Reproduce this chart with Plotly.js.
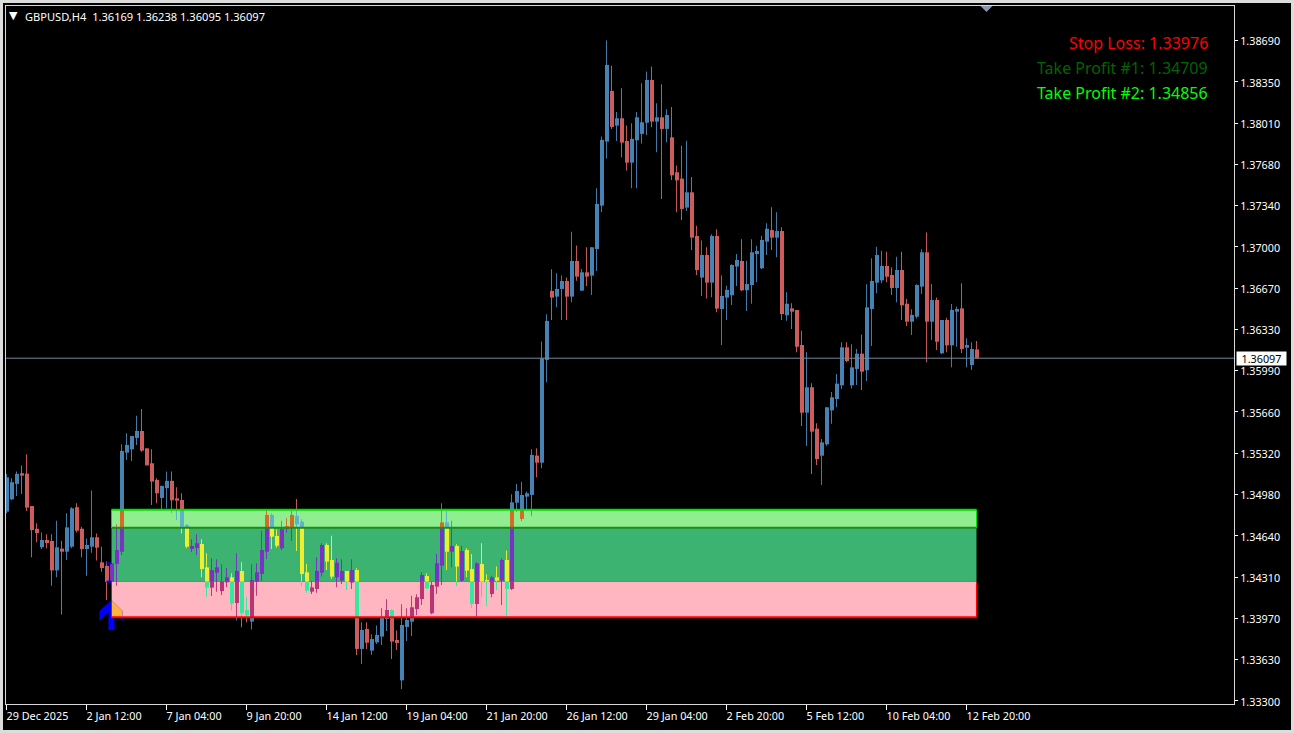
<!DOCTYPE html>
<html>
<head>
<meta charset="utf-8">
<script src="https://cdn.plot.ly/plotly-3.0.1.min.js"></script>
<style>
html,body{margin:0;padding:0;width:1294px;height:733px;background:#dcdcdc;overflow:hidden}
#chart{position:absolute;left:3px;top:3px;width:1288px;height:727px;background:#000}
</style>
</head>
<body>
<div id="chart"></div>
<script>
const open = [1.34841,1.34942,1.35068,1.35155,1.35152,1.34887,1.34701,1.34549,1.34609,1.34601,
1.34360,1.34538,1.34513,1.34554,1.34877,1.34701,1.34535,1.34554,1.34631,1.34426,
1.34396,1.34268,1.34413,1.34513,1.35324,1.35351,1.35444,1.35501,1.35359,1.35237,
1.35101,1.34953,1.35033,1.35093,1.34950,1.34936,1.34731,1.34535,1.34543,1.34576,
1.34385,1.34219,1.34341,1.34191,1.34262,1.34303,1.34093,1.34355,1.34036,1.33941,
1.34268,1.34331,1.34513,1.34814,1.34642,1.34541,1.34699,1.34713,1.34805,1.34759,
1.34344,1.34186,1.34208,1.34341,1.34568,1.34445,1.34303,1.34276,1.34355,1.34260,
1.34363,1.33717,1.33880,1.33703,1.33771,1.33818,1.33962,1.34036,1.33790,1.33460,
1.33897,1.33940,1.34044,1.34126,1.34314,1.34009,1.34227,1.34399,1.34753,1.34513,
1.34560,1.34276,1.34527,1.34371,1.34085,1.34412,1.34281,1.34167,1.34303,1.34276,
1.34445,1.34208,1.34914,1.34781,1.34964,1.34978,1.35300,1.35242,1.36083,1.36648,
1.36601,1.36664,1.36729,1.36601,1.36893,1.36650,1.36800,1.36773,1.36991,1.37346,
1.37870,1.38285,1.38001,1.38061,1.37875,1.37698,1.37881,1.37933,1.38025,1.38375,
1.38034,1.38069,1.37974,1.37905,1.37619,1.37567,1.37330,1.37455,1.37098,1.36757,
1.36942,1.36716,1.37098,1.36500,1.36593,1.36612,1.36847,1.36893,1.36653,1.36696,
1.36950,1.36833,1.37051,1.37146,1.37084,1.37138,1.36448,1.36505,1.36492,1.36205,
1.35651,1.35859,1.35520,1.35299,1.35392,1.35670,1.35763,1.35875,1.36186,1.35875,
1.36009,1.36134,1.35998,1.36500,1.36715,1.36734,1.36852,1.36778,1.36672,1.36819,
1.36543,1.36396,1.36437,1.36683,1.36964,1.36396,1.36573,1.36137,1.36410,1.36202,
1.36478,1.36505,1.36183,1.36041,1.36169];
const high = [1.35150,1.35114,1.35169,1.35218,1.35310,1.34887,1.34745,1.34671,1.34655,1.34655,
1.34767,1.34603,1.34828,1.34877,1.34909,1.34718,1.34622,1.35014,1.34663,1.34554,
1.34432,1.34424,1.34737,1.35392,1.35482,1.35460,1.35626,1.35681,1.35359,1.35351,
1.35114,1.35052,1.35169,1.35169,1.35041,1.34991,1.34739,1.34614,1.34655,1.34614,
1.34500,1.34459,1.34451,1.34410,1.34382,1.34336,1.34500,1.34426,1.34145,1.34410,
1.34418,1.34685,1.34854,1.34827,1.34696,1.34767,1.34786,1.34846,1.34944,1.34778,
1.34412,1.34273,1.34467,1.34582,1.34582,1.34644,1.34459,1.34451,1.34355,1.34451,
1.34377,1.33935,1.33935,1.33837,1.33908,1.34050,1.34123,1.34041,1.33867,1.34082,
1.34050,1.34153,1.34164,1.34344,1.34336,1.34268,1.34494,1.34909,1.34846,1.34767,
1.34573,1.34562,1.34541,1.34494,1.34426,1.34582,1.34328,1.34317,1.34391,1.34459,
1.34522,1.34983,1.35067,1.35086,1.35005,1.35351,1.35360,1.36233,1.36457,1.36825,
1.36792,1.36773,1.36757,1.37133,1.37019,1.36828,1.37005,1.37005,1.37488,1.37911,
1.38697,1.38492,1.38113,1.38307,1.38001,1.38020,1.38113,1.38347,1.38443,1.38484,
1.38184,1.38339,1.38135,1.38154,1.37674,1.37837,1.37878,1.37581,1.37182,1.37060,
1.37005,1.37111,1.37152,1.36773,1.36691,1.36866,1.36950,1.37070,1.36895,1.37070,
1.37018,1.37100,1.37201,1.37332,1.37291,1.37168,1.36636,1.36546,1.36492,1.36322,
1.36145,1.35891,1.35564,1.35436,1.35695,1.35820,1.35968,1.36227,1.36227,1.36211,
1.36172,1.36292,1.36702,1.36915,1.37010,1.36977,1.36969,1.36841,1.36928,1.36969,
1.36582,1.36497,1.36702,1.36988,1.37125,1.36704,1.36593,1.36410,1.36429,1.36541,
1.36519,1.36710,1.36260,1.36227,1.36238];
const low = [1.34827,1.34936,1.34969,1.34985,1.34847,1.34467,1.34590,1.34535,1.34541,1.34235,
1.34303,1.33998,1.34445,1.34541,1.34671,1.34467,1.34317,1.34505,1.34440,1.34349,
1.34118,1.34259,1.34235,1.34486,1.35264,1.35256,1.35387,1.35332,1.35218,1.34896,
1.34909,1.34855,1.34868,1.34828,1.34772,1.34663,1.34541,1.34511,1.34486,1.34303,
1.34145,1.34150,1.34186,1.34159,1.34221,1.34031,1.33949,1.33894,1.33935,1.33877,
1.34153,1.34273,1.34453,1.34535,1.34546,1.34527,1.34669,1.34601,1.34519,1.34232,
1.34178,1.34167,1.34178,1.34309,1.34363,1.34290,1.34221,1.34249,1.34200,1.34208,
1.33668,1.33594,1.33717,1.33668,1.33758,1.33749,1.33864,1.33635,1.33708,1.33389,
1.33782,1.33823,1.33995,1.34077,1.34208,1.34000,1.34167,1.34241,1.34363,1.34385,
1.34232,1.34268,1.34303,1.34055,1.33981,1.34140,1.34069,1.34140,1.34200,1.34077,
1.33981,1.34200,1.34841,1.34764,1.34863,1.34808,1.35122,1.35196,1.35900,1.36410,
1.36514,1.36410,1.36410,1.36555,1.36732,1.36648,1.36689,1.36615,1.36811,1.37292,
1.37731,1.37974,1.37875,1.37742,1.37633,1.37488,1.37488,1.37854,1.37925,1.37987,
1.37783,1.37401,1.37864,1.37556,1.37292,1.37229,1.37302,1.36983,1.36779,1.36607,
1.36585,1.36596,1.36473,1.36206,1.36410,1.36533,1.36689,1.36647,1.36483,1.36543,
1.36718,1.36827,1.36942,1.36983,1.36923,1.36410,1.36404,1.36336,1.36145,1.35542,
1.35378,1.35149,1.35223,1.35059,1.35381,1.35561,1.35695,1.35845,1.36063,1.35848,
1.35878,1.35837,1.35910,1.36197,1.36628,1.36710,1.36718,1.36614,1.36554,1.36410,
1.36361,1.36287,1.36423,1.36623,1.36063,1.36246,1.36164,1.36131,1.36145,1.36022,
1.36191,1.36137,1.36022,1.36000,1.36095];
const close = [1.35122,1.35082,1.35150,1.35136,1.34874,1.34690,1.34666,1.34609,1.34584,1.34360,
1.34549,1.34513,1.34712,1.34868,1.34685,1.34535,1.34568,1.34631,1.34546,1.34379,
1.34265,1.34418,1.34527,1.35338,1.35387,1.35460,1.35501,1.35340,1.35220,1.35087,
1.34991,1.35052,1.35093,1.34934,1.34931,1.34718,1.34554,1.34560,1.34582,1.34371,
1.34219,1.34363,1.34385,1.34270,1.34303,1.34088,1.34355,1.34009,1.33990,1.34281,
1.34344,1.34527,1.34814,1.34636,1.34562,1.34699,1.34723,1.34814,1.34737,1.34331,
1.34194,1.34221,1.34355,1.34568,1.34432,1.34309,1.34423,1.34355,1.34268,1.34363,
1.33717,1.33872,1.33768,1.33798,1.33831,1.33976,1.34036,1.33777,1.33766,1.33913,
1.33954,1.34058,1.34140,1.34322,1.34213,1.34241,1.34418,1.34753,1.34513,1.34560,
1.34391,1.34519,1.34358,1.34085,1.34418,1.34268,1.34268,1.34303,1.34276,1.34445,
1.34208,1.34917,1.35010,1.34977,1.34991,1.35305,1.35242,1.36096,1.36402,1.36593,
1.36664,1.36729,1.36601,1.36893,1.36765,1.36800,1.36765,1.37005,1.37360,1.37884,
1.38498,1.37990,1.38061,1.37862,1.37698,1.37892,1.38069,1.38028,1.38375,1.38034,
1.38069,1.37974,1.38088,1.37594,1.37553,1.37319,1.37455,1.37084,1.36819,1.36942,
1.36716,1.37098,1.36503,1.36607,1.36656,1.36860,1.36901,1.36653,1.36704,1.36964,
1.36975,1.37065,1.37157,1.37084,1.37138,1.36459,1.36543,1.36478,1.36191,1.35651,
1.35859,1.35496,1.35272,1.35408,1.35695,1.35777,1.35889,1.36186,1.36074,1.36022,
1.36134,1.35987,1.36513,1.36729,1.36942,1.36852,1.36764,1.36672,1.36819,1.36530,
1.36396,1.36451,1.36696,1.36964,1.36396,1.36573,1.36232,1.36410,1.36202,1.36492,
1.36500,1.36172,1.36205,1.36172,1.36097];

const priceTickValues = [1.38698,1.38360,1.38022,1.37684,1.37346,1.37008,1.36670,1.36333,1.35995,1.35657,1.35319,1.34981,1.34643,1.34305,1.33968,1.33630,1.33292];
const priceTickLabels = ['1.38690','1.38350','1.38010','1.37680','1.37340','1.37000','1.36670','1.36330','1.35990','1.35660','1.35320','1.34980','1.34640','1.34310','1.33970','1.33630','1.33300'];
const timeTickBars = [0,16,32,48,64,80,96,112,128,144,160,176,192];
const timeTickLabels = ['29 Dec 2025','2 Jan 12:00','7 Jan 04:00','9 Jan 20:00','14 Jan 12:00','19 Jan 04:00','21 Jan 20:00','26 Jan 12:00','29 Jan 04:00','2 Feb 20:00','5 Feb 12:00','10 Feb 04:00','12 Feb 20:00'];

const stopLoss = 1.33976, takeProfit1 = 1.34709, takeProfit2 = 1.34856, entryLevel = 1.34267;
const lastPrice = 1.36097;
const signalBar = 21, lastBar = 194;
const arrowTipPrice = 1.34118;
const headerText = 'GBPUSD,H4  1.36169 1.36238 1.36095 1.36097';

const UP = '#4682B4', DOWN = '#CD5C5C';
const zones = [
  {lo:takeProfit2, hi:9, up:UP, down:DOWN},
  {lo:takeProfit1, hi:takeProfit2, up:'#D66C24', down:'#5DB2CC', fill:'#90EE90'},
  {lo:entryLevel, hi:takeProfit1, up:'#7A31C5', down:'#F1EF2D', fill:'#3CB371'},
  {lo:stopLoss, hi:entryLevel, up:'#B93475', down:'#32EA9D', fill:'#FFB6C1'},
  {lo:0, hi:stopLoss, up:UP, down:DOWN}
];
const WICK_W = 0.19, WICK_OFF = -0.095, BODY_W = 0.8, BODY_OFF = -0.3;

const xs=[], bases=[], heights=[], widths=[], offsets=[], colors=[];
function piece(i, lo, hi, w, off, col){
  if(hi<=lo) return;
  xs.push(i); bases.push(lo); heights.push(hi-lo); widths.push(w); offsets.push(off); colors.push(col);
}
open.forEach((o,i)=>{
  const c=close[i], isUp=c>=o, top=Math.max(o,c), bot=Math.min(o,c);
  const zs = i>=signalBar ? zones : [{lo:0,hi:9,up:UP,down:DOWN}];
  zs.forEach(z=>{
    const col=isUp?z.up:z.down;
    piece(i, Math.max(low[i],z.lo), Math.min(high[i],z.hi), WICK_W, WICK_OFF, col);
    piece(i, Math.max(bot,z.lo), Math.min(top,z.hi), BODY_W, BODY_OFF, col);
  });
});

const shapes = [];
zones.filter(z=>z.fill).forEach(z=>shapes.push({type:'rect',layer:'below',xref:'x',yref:'y',x0:signalBar,x1:lastBar,y0:z.lo,y1:z.hi,fillcolor:z.fill,line:{width:0}}));
shapes.push({type:'path',layer:'above',xref:'x',yref:'y',xsizemode:'pixel',ysizemode:'pixel',xanchor:signalBar,yanchor:arrowTipPrice,
  path:'M0,0 L11,-11 L11,-21 L3,-12 L3,-30 L-3,-30 L-3,-12 L-12,-21 L-12,-11 Z',fillcolor:'#0000FF',line:{width:0}});
shapes.push({type:'path',layer:'above',xref:'x',yref:'y',xsizemode:'pixel',ysizemode:'pixel',xanchor:signalBar,yanchor:arrowTipPrice,
  path:'M0,0 L11,-11 L11,-17 L0,-17 Z',fillcolor:'#FFB23E',opacity:1,line:{width:0}});
[[close[signalBar]],[open[signalBar]]].forEach(v=>shapes.push({type:'line',layer:'above',xref:'x',yref:'y',x0:signalBar-1,x1:signalBar,y0:v[0],y1:v[0],line:{color:'#0000FF',width:2}}));
function seg(x0,x1,y0,y1,color,width){shapes.push({type:'line',layer:'above',xref:'x',yref:'y',x0,x1,y0,y1,line:{color,width}});}
seg(signalBar,lastBar,takeProfit2,takeProfit2,'#00E000',2);
seg(signalBar,lastBar,takeProfit1,takeProfit1,'#1E8B1E',2);
seg(signalBar,lastBar,stopLoss,stopLoss,'#FF0000',2);
[signalBar,lastBar].forEach(b=>{
  seg(b,b,takeProfit1,takeProfit2,'#00E000',1);
  seg(b,b,stopLoss,entryLevel,'#FF0000',1);
});
shapes.push({type:'line',layer:'above',xref:'paper',yref:'y',x0:0,x1:1,y0:lastPrice,y1:lastPrice,line:{color:'#778899',width:1}});
shapes.push({type:'path',layer:'above',xref:'x',yref:'paper',xsizemode:'pixel',ysizemode:'pixel',xanchor:196,yanchor:1,
  path:'M-6,0 L6,0 L0,-6 Z',fillcolor:'#8796AC',line:{width:0}});

const uiFont='"Noto Sans", sans-serif';
const annotations=[
  {xref:'paper',yref:'paper',x:0,y:1,xanchor:'left',yanchor:'top',xshift:1,yshift:-1,showarrow:false,text:'▼',font:{family:'"DejaVu Sans"',size:11,color:'#FFFFFF'}},
  {xref:'paper',yref:'paper',x:0,y:1,xanchor:'left',yanchor:'top',xshift:17,yshift:-1,showarrow:false,text:headerText,font:{family:uiFont,size:11.1,color:'#FFFFFF'}},
  {xref:'paper',yref:'paper',x:1,y:1,xanchor:'right',yanchor:'middle',xshift:-24,yshift:-37,showarrow:false,text:'Stop Loss: '+stopLoss.toFixed(5),font:{family:uiFont,size:16,color:'#FF0000'}},
  {xref:'paper',yref:'paper',x:1,y:1,xanchor:'right',yanchor:'middle',xshift:-24,yshift:-62,showarrow:false,text:'Take Profit #1: '+takeProfit1.toFixed(5),font:{family:uiFont,size:16,color:'#006400'}},
  {xref:'paper',yref:'paper',x:1,y:1,xanchor:'right',yanchor:'middle',xshift:-24,yshift:-87,showarrow:false,text:'Take Profit #2: '+takeProfit2.toFixed(5),font:{family:uiFont,size:16,color:'#00FF00'}},
  {xref:'paper',yref:'y',x:1,y:lastPrice,xanchor:'left',yanchor:'middle',xshift:2,showarrow:false,text:lastPrice.toFixed(5),bgcolor:'#FFFFFF',width:49,height:13,borderpad:0,font:{family:uiFont,size:10.8,color:'#000000'}}
];

Plotly.newPlot('chart',[{
  type:'bar',x:xs,base:bases,y:heights,width:widths,offset:offsets,
  marker:{color:colors,line:{width:0}},hoverinfo:'skip',showlegend:false
}],{
  width:1288,height:727,
  margin:{l:3,r:57,t:3,b:26,pad:0},
  paper_bgcolor:'#000000',plot_bgcolor:'#000000',
  barmode:'overlay',showlegend:false,
  xaxis:{type:'linear',range:[-0.1,245.5],showgrid:false,zeroline:false,
    tickmode:'array',tickvals:timeTickBars,ticktext:timeTickLabels,ticks:'outside',ticklen:5,tickcolor:'#FFFFFF',tickwidth:1,
    ticklabelposition:'outside right',ticklabelshift:-1,ticklabelstandoff:2,tickfont:{family:uiFont,size:10.8,color:'#FFFFFF'},
    showline:true,mirror:true,linecolor:'#D8D8D8',linewidth:1},
  yaxis:{type:'linear',side:'right',range:[1.332663,1.389801],showgrid:false,zeroline:false,
    tickmode:'array',tickvals:priceTickValues,ticktext:priceTickLabels,ticks:'outside',ticklen:3,tickcolor:'#FFFFFF',tickwidth:1,
    ticklabelshift:1,tickfont:{family:uiFont,size:10.8,color:'#FFFFFF'},
    showline:true,mirror:true,linecolor:'#D8D8D8',linewidth:1},
  shapes,annotations
},{displayModeBar:false,staticPlot:true});
</script>
</body>
</html>
